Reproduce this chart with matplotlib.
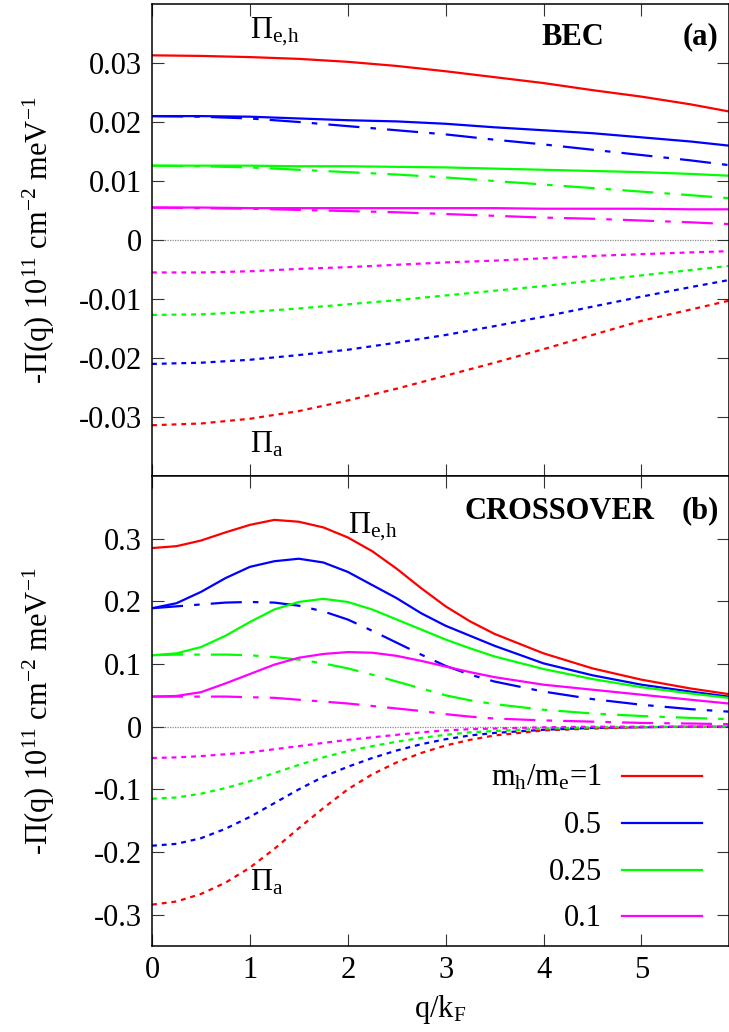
import numpy as np
import matplotlib
matplotlib.use("Agg")
import matplotlib.pyplot as plt

plt.rcParams['font.family'] = ['Liberation Serif', 'DejaVu Serif']
plt.rcParams['mathtext.fontset'] = 'custom'
plt.rcParams['mathtext.rm'] = 'Liberation Serif'
plt.rcParams['mathtext.it'] = 'Liberation Serif:italic'
plt.rcParams['mathtext.bf'] = 'Liberation Serif:bold'
plt.rcParams['axes.unicode_minus'] = False

# ---------------- data: panel (a) BEC ----------------
x_bec = [0, 0.5, 1, 1.5, 2, 2.5, 3, 3.5, 4, 4.5, 5, 5.5, 5.89]
bec_eh_1 = [0.0313, 0.0312, 0.0310, 0.0307, 0.0302, 0.0295, 0.0286, 0.0276, 0.0266, 0.0254, 0.0243, 0.0230, 0.0218]
bec_eh_05_e = [0.0210, 0.0210, 0.0209, 0.0206, 0.0203, 0.0201, 0.0197, 0.0191, 0.0186, 0.0181, 0.0174, 0.0167, 0.0160]
bec_eh_05_h = [0.0210, 0.0209, 0.0206, 0.0200, 0.0193, 0.0186, 0.0179, 0.0170, 0.0162, 0.0153, 0.0144, 0.0135, 0.0127]
bec_eh_025_e = [0.0126, 0.0126, 0.0126, 0.0125, 0.0125, 0.0124, 0.0123, 0.0121, 0.0119, 0.0117, 0.0115, 0.0112, 0.0109]
bec_eh_025_h = [0.0126, 0.0125, 0.0123, 0.0119, 0.0115, 0.0111, 0.0106, 0.0100, 0.0094, 0.0088, 0.0082, 0.0076, 0.0071]
bec_eh_01_e = [0.0055, 0.0055, 0.0054, 0.0054, 0.0054, 0.0054, 0.0054, 0.0054, 0.0053, 0.0053, 0.0053, 0.0052, 0.0052]
bec_eh_01_h = [0.0055, 0.0054, 0.0053, 0.0051, 0.0049, 0.0047, 0.0044, 0.0041, 0.0038, 0.0036, 0.0033, 0.0030, 0.0027]
bec_a_1 = [-0.0314, -0.0311, -0.0303, -0.0290, -0.0272, -0.0252, -0.0230, -0.0208, -0.0185, -0.0161, -0.0137, -0.0118, -0.0103]
bec_a_05 = [-0.0210, -0.0208, -0.0203, -0.0195, -0.0186, -0.0174, -0.0161, -0.0146, -0.0130, -0.0113, -0.0096, -0.0080, -0.0068]
bec_a_025 = [-0.0127, -0.0126, -0.0122, -0.0116, -0.0109, -0.0102, -0.0094, -0.0086, -0.0078, -0.0069, -0.0060, -0.0051, -0.0044]
bec_a_01 = [-0.0055, -0.0055, -0.0053, -0.0049, -0.0046, -0.0042, -0.0038, -0.0035, -0.0031, -0.0027, -0.0024, -0.0021, -0.0019]

# ---------------- data: panel (b) CROSSOVER ----------------
x_cr = [0, 0.25, 0.5, 0.75, 1.0, 1.25, 1.5, 1.75, 2.0, 2.25, 2.5, 2.75, 3.0, 3.25, 3.5, 4.0, 4.5, 5.0, 5.5, 5.89]
cr_eh_1 = [0.285, 0.288, 0.297, 0.310, 0.322, 0.330, 0.327, 0.318, 0.302, 0.280, 0.252, 0.221, 0.192, 0.168, 0.148, 0.117, 0.093, 0.075, 0.061, 0.052]
cr_eh_05_e = [0.189, 0.197, 0.215, 0.237, 0.255, 0.264, 0.268, 0.262, 0.247, 0.226, 0.205, 0.181, 0.161, 0.145, 0.129, 0.101, 0.082, 0.067, 0.056, 0.048]
cr_eh_05_h = [0.189, 0.192, 0.195, 0.198, 0.199, 0.198, 0.193, 0.184, 0.171, 0.153, 0.134, 0.115, 0.097, 0.083, 0.072, 0.056, 0.044, 0.035, 0.028, 0.024]
cr_eh_025_e = [0.114, 0.117, 0.127, 0.145, 0.167, 0.187, 0.199, 0.204, 0.199, 0.187, 0.171, 0.155, 0.139, 0.125, 0.112, 0.092, 0.076, 0.063, 0.053, 0.046]
cr_eh_025_h = [0.114, 0.115, 0.115, 0.115, 0.114, 0.111, 0.107, 0.101, 0.093, 0.083, 0.072, 0.061, 0.050, 0.042, 0.036, 0.027, 0.021, 0.017, 0.014, 0.012]
cr_eh_01_e = [0.048, 0.049, 0.055, 0.069, 0.084, 0.099, 0.110, 0.116, 0.119, 0.118, 0.113, 0.105, 0.096, 0.087, 0.079, 0.067, 0.059, 0.051, 0.043, 0.037]
cr_eh_01_h = [0.048, 0.048, 0.048, 0.048, 0.047, 0.046, 0.043, 0.040, 0.037, 0.033, 0.029, 0.025, 0.020, 0.016, 0.013, 0.010, 0.008, 0.006, 0.005, 0.004]
cr_a_1 = [-0.284, -0.279, -0.267, -0.249, -0.225, -0.195, -0.162, -0.130, -0.100, -0.076, -0.057, -0.042, -0.030, -0.021, -0.014, -0.006, -0.003, -0.001, 0.0, 0.0]
cr_a_05 = [-0.190, -0.187, -0.178, -0.163, -0.144, -0.122, -0.100, -0.080, -0.064, -0.050, -0.038, -0.028, -0.020, -0.014, -0.010, -0.005, -0.002, -0.001, 0.0, 0.0]
cr_a_025 = [-0.115, -0.113, -0.107, -0.098, -0.087, -0.074, -0.061, -0.049, -0.039, -0.031, -0.024, -0.018, -0.013, -0.009, -0.007, -0.003, -0.001, -0.0005, 0.0, 0.0]
cr_a_01 = [-0.050, -0.049, -0.047, -0.044, -0.041, -0.036, -0.031, -0.026, -0.021, -0.017, -0.013, -0.009, -0.006, -0.004, -0.003, -0.001, 0.0, 0.0, 0.0, 0.0]

legend_labels = [r'm$_\mathrm{h}$/m$_\mathrm{e}$=1', '0.5', '0.25', '0.1']
colors = ['#ff0000', '#0000ff', '#00ff00', '#ff00ff']

yticks_a = [-0.03, -0.02, -0.01, 0, 0.01, 0.02, 0.03]
ytick_labels_a = ['-0.03', '-0.02', '-0.01', '0', '0.01', '0.02', '0.03']
yticks_b = [-0.3, -0.2, -0.1, 0, 0.1, 0.2, 0.3]
ytick_labels_b = ['-0.3', '-0.2', '-0.1', '0', '0.1', '0.2', '0.3']
xticks = [0, 1, 2, 3, 4, 5]

# ---------------- figure ----------------
W, H = 729, 1032
fig = plt.figure(figsize=(W / 100, H / 100), dpi=100)
left = 152 / W
width = (728.5 - 152) / W
ax1 = fig.add_axes([left, 1 - 476 / H, width, 472 / H])
ax2 = fig.add_axes([left, 1 - 946 / H, width, 470 / H], sharex=ax1)

LW = 1.6
SOLID = '-'
DASHDOT = (0, (14, 5, 2.5, 5))
DOT = (0, (2.2, 2.2))
FS = 22

def style_axes(ax, yticks, ylabels, ylim):
    ax.set_xlim(0, 5.89)
    ax.set_ylim(*ylim)
    ax.set_yticks(yticks)
    ax.set_yticklabels(ylabels)
    ax.set_xticks(xticks)
    ax.tick_params(direction='in', length=8.5, width=0.8, top=True, right=True,
                   labelsize=FS, pad=7, color='#333333')
    for s in ax.spines.values():
        s.set_linewidth(1.1)
    ax.axhline(0, color='#888888', lw=0.9, ls=(0, (1, 1)), zorder=0)
    ax.set_ylabel(r'-$\Pi$(q) 10$^{11}$ cm$^{-2}$ meV$^{-1}$', fontsize=FS)
    ax.yaxis.set_label_coords(-0.165, 0.5)

PI_EH = r'$\Pi_{\mathrm{e{,}h}}$'
PI_A = r'$\Pi_{\mathrm{a}}$'

# panel (a)
x = np.array(x_bec)
ax1.plot(x, bec_eh_1, color=colors[0], lw=LW, ls=SOLID)
ax1.plot(x, bec_eh_05_e, color=colors[1], lw=LW, ls=SOLID)
ax1.plot(x, bec_eh_05_h, color=colors[1], lw=LW, ls=DASHDOT)
ax1.plot(x, bec_eh_025_e, color=colors[2], lw=LW, ls=SOLID)
ax1.plot(x, bec_eh_025_h, color=colors[2], lw=LW, ls=DASHDOT)
ax1.plot(x, bec_eh_01_e, color=colors[3], lw=LW, ls=SOLID)
ax1.plot(x, bec_eh_01_h, color=colors[3], lw=LW, ls=DASHDOT)
for ys, c in zip([bec_a_1, bec_a_05, bec_a_025, bec_a_01], colors):
    ax1.plot(x, ys, color=c, lw=LW, ls=DOT)
style_axes(ax1, yticks_a, ytick_labels_a, (-0.04, 0.04))
plt.setp(ax1.get_xticklabels(), visible=False)

ax1.text(1.0, 0.0342, PI_EH, fontsize=FS, ha='left', va='baseline')
ax1.text(1.0, -0.0360, PI_A, fontsize=FS, ha='left', va='baseline')
ax1.text(3.98, 0.0331, 'BEC', fontsize=FS, fontweight='bold', ha='left', va='baseline')
ax1.text(5.79, 0.0331, '(a)', fontsize=FS, fontweight='bold', ha='right', va='baseline')

# panel (b)
x = np.array(x_cr)
ax2.plot(x, cr_eh_1, color=colors[0], lw=LW, ls=SOLID)
ax2.plot(x, cr_eh_05_e, color=colors[1], lw=LW, ls=SOLID)
ax2.plot(x, cr_eh_05_h, color=colors[1], lw=LW, ls=DASHDOT)
ax2.plot(x, cr_eh_025_e, color=colors[2], lw=LW, ls=SOLID)
ax2.plot(x, cr_eh_025_h, color=colors[2], lw=LW, ls=DASHDOT)
ax2.plot(x, cr_eh_01_e, color=colors[3], lw=LW, ls=SOLID)
ax2.plot(x, cr_eh_01_h, color=colors[3], lw=LW, ls=DASHDOT)
for ys, c in zip([cr_a_1, cr_a_05, cr_a_025, cr_a_01], colors):
    ax2.plot(x, ys, color=c, lw=LW, ls=DOT)
style_axes(ax2, yticks_b, ytick_labels_b, (-0.35, 0.4))
ax2.set_xticklabels([str(t) for t in xticks])
ax2.set_xlabel(r'q/k$_\mathrm{F}$', fontsize=FS, labelpad=6)

ax2.text(2.0, 0.309, PI_EH, fontsize=FS, ha='left', va='baseline')
ax2.text(1.0, -0.261, PI_A, fontsize=FS, ha='left', va='baseline')
ax2.text(3.19, 0.332, 'CROSSOVER', fontsize=FS, fontweight='bold', ha='left', va='baseline')
ax2.text(5.79, 0.332, '(b)', fontsize=FS, fontweight='bold', ha='right', va='baseline')

# legend (manual, right-aligned labels)
row_y = [0.3617, 0.2617, 0.1617, 0.0638]
for lab, c, yy in zip(legend_labels, colors, row_y):
    ax2.plot([0.8146, 0.954], [yy, yy], color=c, lw=LW, transform=ax2.transAxes)
    ax2.text(0.78, yy - 0.021, lab, fontsize=FS, ha='right', va='baseline',
             transform=ax2.transAxes)

fig.savefig('out.png', dpi=100)
